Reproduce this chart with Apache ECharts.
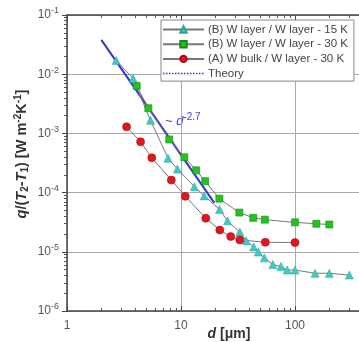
<!DOCTYPE html>
<html>
<head>
<meta charset="utf-8">
<script src="https://cdn.jsdelivr.net/npm/echarts@6/dist/echarts.min.js"></script>
<style>
  html, body { margin: 0; padding: 0; background: #fff; }
  #chart { width: 359px; height: 342px; }
</style>
</head>
<body>
<div id="chart"></div>
<script>
// (B) W layer / W layer - 15 K
const d_B15 = [2.7, 3.8, 5.4, 7.7, 9.3, 13.1, 16.0, 21.8, 25.6, 32.8, 37.3, 43.4, 47.7, 53.8, 63.9, 75.3, 85.6, 100, 150, 200, 300];
const q_B15 = [1.71e-2, 8.5e-3, 1.66e-3, 3.8e-4, 2.5e-4, 1.26e-4, 8.8e-5, 5.2e-5, 3.33e-5, 2.15e-5, 1.54e-5, 1.21e-5, 9.9e-6, 7.9e-6, 6.1e-6, 5.65e-6, 4.92e-6, 4.92e-6, 4.34e-6, 4.34e-6, 4.05e-6];
// (B) W layer / W layer - 30 K
const d_B30 = [4.09, 5.17, 7.89, 10.7, 13.6, 16.3, 21.7, 32.5, 43.1, 54.4, 100, 154, 200];
const q_B30 = [6.33e-3, 2.66e-3, 7.9e-4, 3.95e-4, 2.38e-4, 1.56e-4, 7.9e-5, 4.6e-5, 3.75e-5, 3.49e-5, 3.14e-5, 2.98e-5, 2.89e-5];
// (A) W bulk / W layer - 30 K
const d_A30 = [3.33, 4.42, 5.54, 8.22, 10.9, 16.5, 21.9, 27.3, 32.8, 54.9, 100];
const q_A30 = [1.29e-3, 7.2e-4, 3.88e-4, 1.63e-4, 8.65e-5, 3.7e-5, 2.33e-5, 1.81e-5, 1.59e-5, 1.45e-5, 1.43e-5];
// Theory ~ d^-2.7 (end points)
const d_theory = [2, 19.6];
const q_theory = [3.8e-2, 6.7e-5];

const seriesNames = ['(B) W layer / W layer - 15 K', '(B) W layer / W layer - 30 K', '(A) W bulk / W layer - 30 K', 'Theory'];

// minor tick positions (log axes)
const xMinorTicks = [2, 3, 4, 5, 6, 7, 8, 9, 20, 30, 40, 50, 60, 70, 80, 90, 200, 300, 400];
const yMinorTicks = [];
[1e-6, 1e-5, 1e-4, 1e-3, 1e-2].forEach(function (p) {
  for (let k = 2; k <= 9; k++) yMinorTicks.push(k * p);
});

const FONT = 'Liberation Sans, Arial, sans-serif';
const pairs = (xs, ys) => xs.map((x, i) => [x, ys[i]]);
const isPow10 = v => Math.abs(Math.log10(v) - Math.round(Math.log10(v))) < 1e-6;

const chart = echarts.init(document.getElementById('chart'), null, {renderer: 'canvas'});

// extra log axis that only draws the minor ticks
const minorAxis = (pos, min, max, ticks, inside) => ({
  type: 'log',
  position: pos,
  min: min,
  max: max,
  axisLine: {show: false},
  splitLine: {show: false},
  axisLabel: {show: false},
  axisTick: {show: true, inside: inside, length: 3, customValues: ticks, lineStyle: {color: '#555', width: 1}}
});

const option = {
  animation: false,
  backgroundColor: '#fff',
  grid: {left: 67, right: -4.6, top: 15, bottom: 31, outerBoundsMode: 'none'},
  legend: {
    orient: 'vertical',
    left: 161,
    top: 20,
    padding: [3, 6, 1, 1],
    itemWidth: 41,
    itemHeight: 8,
    itemGap: 1.7,
    backgroundColor: '#fff',
    borderColor: '#888',
    borderWidth: 1,
    textStyle: {fontFamily: FONT, fontSize: 11.5, color: '#444', lineHeight: 13, padding: [0, 0, 0, -1]},
    data: [
      {name: seriesNames[0]},
      {name: seriesNames[1]},
      {name: seriesNames[2]},
      {
        name: seriesNames[3],
        lineStyle: {type: 'dotted', width: 1.5, color: '#3535d5'},
        itemStyle: {color: 'rgba(0,0,0,0)', borderColor: 'rgba(0,0,0,0)', borderWidth: 0}
      }
    ]
  },
  xAxis: [
    {
      type: 'log', position: 'bottom', min: 1, max: 400,
      axisLine: {show: true, lineStyle: {color: '#444', width: 1.5}},
      axisTick: {show: true, inside: true, length: 5, lineStyle: {color: '#444', width: 1}},
      axisLabel: {
        margin: 9, color: '#555', fontFamily: FONT, fontSize: 12,
        formatter: v => isPow10(v) ? String(Math.round(v)) : ''
      },
      splitLine: {show: true, lineStyle: {color: '#aaa', width: 1}}
    },
    {
      type: 'log', position: 'top', min: 1, max: 400,
      axisLine: {show: true, lineStyle: {color: '#444', width: 1.5}},
      axisTick: {show: true, inside: true, length: 5, lineStyle: {color: '#444', width: 1}},
      axisLabel: {show: false},
      splitLine: {show: false}
    },
    minorAxis('bottom', 1, 400, xMinorTicks, true),
    minorAxis('top', 1, 400, xMinorTicks, true)
  ],
  yAxis: [
    {
      type: 'log', position: 'left', min: 1e-6, max: 1e-1,
      axisLine: {show: true, lineStyle: {color: '#444', width: 1.5}},
      axisTick: {show: true, length: 5, lineStyle: {color: '#444', width: 1}},
      axisLabel: {
        margin: 8, color: '#555', fontFamily: FONT, fontSize: 12,
        formatter: v => isPow10(v) ? '10{sup|' + Math.round(Math.log10(v)) + '}' : '',
        rich: {sup: {fontSize: 9, color: '#555', fontFamily: FONT, padding: [0, 0, 8, 0]}}
      },
      splitLine: {show: true, lineStyle: {color: '#aaa', width: 1}}
    },
    minorAxis('left', 1e-6, 1e-1, yMinorTicks, false)
  ],
  graphic: [
    {
      type: 'text', x: 22, y: 154, rotation: Math.PI / 2,
      style: {
        text: '{i|q}/({i|T}{sub|2}-{i|T}{sub|1}) [W m{sup|-2}K{sup|-1}]',
        align: 'center', verticalAlign: 'middle',
        font: 'bold 14.5px ' + FONT, fill: '#333',
        rich: {
          i: {fontStyle: 'italic', fontWeight: 'bold', fontSize: 14.5, fontFamily: FONT, fill: '#333'},
          sub: {fontWeight: 'bold', fontSize: 10, fontFamily: FONT, fill: '#333', padding: [7, 0, 0, 0]},
          sup: {fontWeight: 'bold', fontSize: 10, fontFamily: FONT, fill: '#333', padding: [0, 0, 8, 0]}
        }
      }
    },
    {
      type: 'text', x: 229, y: 334,
      style: {
        text: '{i|d} [μm]',
        align: 'center', verticalAlign: 'middle',
        font: 'bold 14px ' + FONT, fill: '#333',
        rich: {i: {fontStyle: 'italic', fontWeight: 'bold', fontSize: 14, fontFamily: FONT, fill: '#333'}}
      }
    },
    {
      type: 'text', x: 165, y: 121,
      style: {
        text: '~ {i|d}{sup|-2.7}',
        align: 'left', verticalAlign: 'middle',
        font: '13px ' + FONT, fill: '#3c3ce6',
        rich: {
          i: {fontStyle: 'italic', fontSize: 13, fontFamily: FONT, fill: '#3c3ce6'},
          sup: {fontSize: 10, fontFamily: FONT, fill: '#3c3ce6', padding: [0, 0, 8, 0]}
        }
      }
    }
  ],
  series: [
    {
      name: seriesNames[3], type: 'line', xAxisIndex: 0, yAxisIndex: 0,
      data: pairs(d_theory, q_theory), symbol: 'none', z: 2,
      lineStyle: {color: '#3535d5', width: 2},
      itemStyle: {color: '#3535d5'}
    },
    {
      name: seriesNames[0], type: 'line', xAxisIndex: 0, yAxisIndex: 0,
      data: pairs(d_B15, q_B15), symbol: 'triangle', symbolSize: 8, z: 3,
      lineStyle: {color: '#777', width: 1},
      itemStyle: {color: '#3ec9c2', borderColor: '#2aa39c', borderWidth: 0.5}
    },
    {
      name: seriesNames[1], type: 'line', xAxisIndex: 0, yAxisIndex: 0,
      data: pairs(d_B30, q_B30), symbol: 'rect', symbolSize: 7, z: 4,
      lineStyle: {color: '#777', width: 1},
      itemStyle: {color: '#22c41e', borderColor: '#168a14', borderWidth: 0.6}
    },
    {
      name: seriesNames[2], type: 'line', xAxisIndex: 0, yAxisIndex: 0,
      data: pairs(d_A30, q_A30), symbol: 'circle', symbolSize: 8, z: 3,
      lineStyle: {color: '#777', width: 1},
      itemStyle: {color: '#e2161f', borderColor: '#a80e14', borderWidth: 0.6}
    }
  ]
};

chart.setOption(option);
</script>
</body>
</html>
